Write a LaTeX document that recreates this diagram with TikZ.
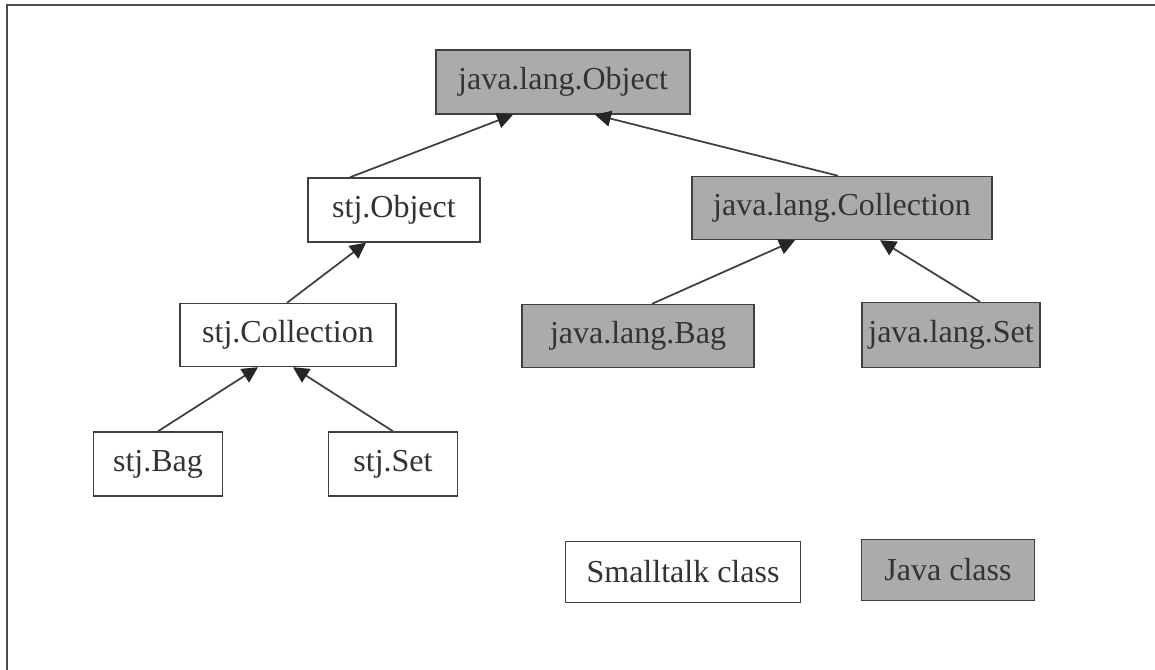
\documentclass[tikz,border=0pt]{standalone}
\usepackage{fontspec}
\setmainfont{Liberation Serif}
\usepackage{tikz}
\usetikzlibrary{arrows.meta}

\begin{document}
\begin{tikzpicture}[x=0.01cm, y=-0.01cm]
	\useasboundingbox (0,0) rectangle (1155,669);
	\draw [line width=0.7pt, black!70] (7,700) -- (7,5) -- (1200,5);
	\begin{scope}[every node/.style = {rectangle, draw=black!75, inner sep=0pt,
			font=\fontsize{9.1}{11}\selectfont, text=black!80},
		stclass/.style = {fill=white},
		jvclass/.style = {fill=black!33}]
		\node[jvclass, minimum width=2.54cm, minimum height=0.64cm] (jlo) at (563,82) {java.lang.Object};
		\node[stclass, minimum width=1.72cm, minimum height=0.64cm] (so) at (394,210) {stj.Object};
		\node[jvclass, minimum width=3.00cm, minimum height=0.63cm] (jlc) at (842,208) {java.lang.Collection};
		\node[stclass, minimum width=2.16cm, minimum height=0.63cm] (sc) at (288,335) {stj.Collection};
		\node[jvclass, minimum width=2.32cm, minimum height=0.63cm] (jlb) at (638,336) {java.lang.Bag};
		\node[jvclass, minimum width=1.78cm, minimum height=0.65cm] (jls) at (951,335) {java.lang.Set};
		\node[stclass, minimum width=1.29cm, minimum height=0.64cm] (sb) at (158,464) {stj.Bag};
		\node[stclass, minimum width=1.29cm, minimum height=0.64cm] (ss) at (393,464) {stj.Set};
		\node[stclass, minimum width=2.35cm, minimum height=0.61cm] (lst) at (683,572) {Smalltalk class};
		\node[jvclass, minimum width=1.73cm, minimum height=0.61cm] (ljv) at (948,570) {Java class};
	\end{scope}
	\begin{scope}[>={Triangle[black!85, length=4.5pt, width=4.5pt]},
			every edge/.style={draw=black!75, line width=0.5pt}]
		\path [<-] ([xshift=-0.50cm]jlo.south) edge ([xshift=-0.44cm]so.north);
		\path [<-] ([xshift=0.32cm]jlo.south) edge ([xshift=-0.04cm]jlc.north);
		\path [<-] ([xshift=-0.28cm]so.south) edge ([xshift=-0.01cm]sc.north);
		\path [<-] ([xshift=-0.47cm]jlc.south) edge ([xshift=0.14cm]jlb.north);
		\path [<-] ([xshift=0.38cm]jlc.south) edge ([xshift=0.29cm]jls.north);
		\path [<-] ([xshift=-0.30cm]sc.south) edge (sb.north);
		\path [<-] ([xshift=0.05cm]sc.south) edge (ss.north);
	\end{scope}
\end{tikzpicture}
\end{document}
